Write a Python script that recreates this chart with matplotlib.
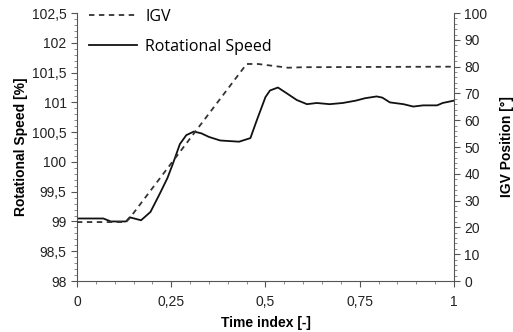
import matplotlib.pyplot as plt
from matplotlib.ticker import MultipleLocator, FuncFormatter

# rotational speed, left axis [%]
t_speed = [0.0, 0.07, 0.09, 0.13, 0.14, 0.17, 0.195, 0.22, 0.24, 0.255, 0.273, 0.29, 0.31, 0.33,
           0.35, 0.38, 0.43, 0.46, 0.477, 0.50, 0.512, 0.533, 0.557, 0.583, 0.61, 0.636, 0.67,
           0.705, 0.74, 0.764, 0.795, 0.81, 0.83, 0.866, 0.892, 0.918, 0.955, 0.97, 1.0]
speed = [99.05, 99.05, 99.0, 99.0, 99.07, 99.02, 99.16, 99.47, 99.73, 99.98, 100.3, 100.45, 100.51, 100.48,
         100.42, 100.36, 100.34, 100.4, 100.7, 101.09, 101.2, 101.25, 101.15, 101.04, 100.97, 100.99, 100.97,
         100.99, 101.03, 101.07, 101.1, 101.08, 101.0, 100.97, 100.93, 100.95, 100.95, 100.99, 101.03]

# IGV position, right axis [deg]
t_igv = [0.0, 0.13, 0.14, 0.45, 0.48, 0.52, 0.56, 0.6, 1.0]
igv = [22, 22, 23.5, 81, 81, 80.3, 79.6, 79.8, 80]


def comma(v, pos):
    s = ('%g' % v)
    return s.replace('.', ',')


plt.rcParams['font.family'] = ['Liberation Sans', 'DejaVu Sans']
fig = plt.figure(figsize=(5.13, 3.32), dpi=100)
ax = fig.add_axes([0.150, 0.1536, 0.735, 0.807])
ax2 = ax.twinx()

l2, = ax2.plot(t_igv, igv, color='#333333', lw=1.3, ls=(0, (3, 2.5)), label='IGV')
l1, = ax.plot(t_speed, speed, color='#111111', lw=1.3, label='Rotational Speed')

ax.set_xlim(0, 1)
ax.set_ylim(98, 102.5)
ax2.set_ylim(0, 100)

ax.xaxis.set_major_locator(MultipleLocator(0.25))
ax.xaxis.set_minor_locator(MultipleLocator(0.05))
ax.yaxis.set_major_locator(MultipleLocator(0.5))
ax.yaxis.set_minor_locator(MultipleLocator(0.1))
ax2.yaxis.set_major_locator(MultipleLocator(10))
ax2.yaxis.set_minor_locator(MultipleLocator(2))
ax.xaxis.set_major_formatter(FuncFormatter(comma))
ax.yaxis.set_major_formatter(FuncFormatter(comma))

for a in (ax, ax2):
    a.spines['top'].set_visible(False)
    for s in a.spines.values():
        s.set_color('#555555')
    a.tick_params(which='major', length=4, color='#555555', labelsize=10, labelcolor='#222222')
    a.tick_params(which='minor', length=2, color='#777777')
ax.spines['right'].set_visible(False)
ax2.spines['left'].set_visible(False)
ax2.spines['bottom'].set_visible(False)
ax.tick_params(axis='x', pad=6)

ax.set_xlabel('Time index [-]', fontsize=10, fontweight='bold', labelpad=5)
ax.set_ylabel('Rotational Speed [%]', fontsize=10, fontweight='bold', labelpad=3)
ax2.set_ylabel('IGV Position [°]', fontsize=10, fontweight='bold', labelpad=9)

leg = ax2.legend([l2, l1], ['IGV', 'Rotational Speed'], loc='upper left',
                 bbox_to_anchor=(-0.005, 1.07), frameon=False, handlelength=3.0,
                 handletextpad=0.5, labelspacing=0.9,
                 prop={'family': 'Open Sans', 'size': 11.5})

fig.savefig('out.png', dpi=100)
